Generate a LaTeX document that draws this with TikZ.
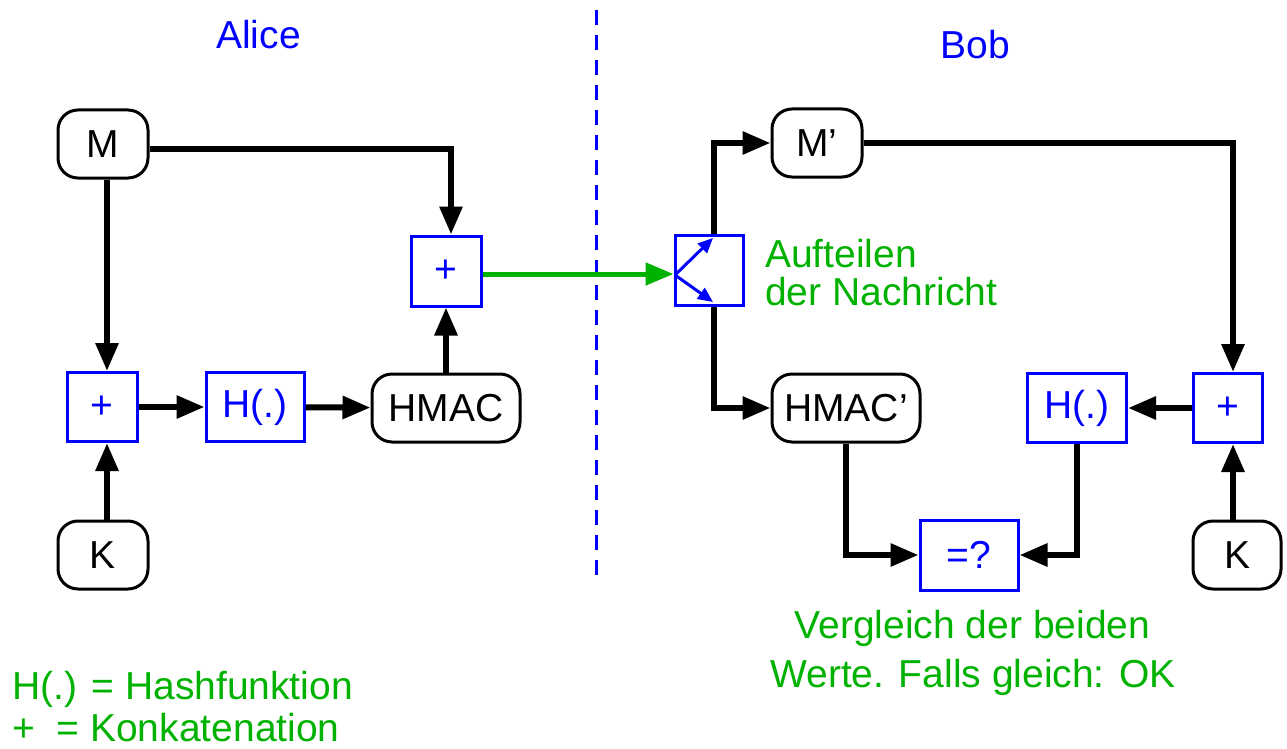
\documentclass[tikz,border=0pt]{standalone}
\usepackage{fontspec}
\setmainfont{Liberation Sans}
\usetikzlibrary{arrows.meta,calc}
\definecolor{dgreen}{RGB}{0,178,0}
\begin{document}
\begin{tikzpicture}[x=1pt,y=-1pt,
  every node/.style={font=\fontsize{39}{46}\selectfont, inner sep=0pt},
  rbox/.style={draw, line width=3pt, rounded corners=20pt, minimum width=#1, minimum height=68pt},
  bbox/.style={draw=blue, line width=3pt, text=blue, minimum width=#1, minimum height=69pt},
  conn/.style={line width=6pt, -{Triangle[length=28pt,width=22pt]}},
  gtext/.style={text=dgreen, anchor=base west},
  gctext/.style={text=dgreen, anchor=base},
  title/.style={text=blue, anchor=base}]
\useasboundingbox (0,0) rectangle (1287,749);

% helper coordinates
\coordinate (xl) at (107,0);
\coordinate (xp) at (451,0);
\coordinate (ym) at (0,149);
\coordinate (xr) at (1233,0);
\coordinate (yg) at (0,274);
\coordinate (dtop) at (596,10);
\coordinate (dbot) at (596,580);

% divider
\draw[blue, line width=3pt, dash pattern=on 15pt off 10pt] (dtop) -- (dbot);

% titles
\node[title] (alice) at (258.5,49) {Alice};
\node[title] (bob) at (975,59) {Bob};

% Alice side
\node[rbox=90pt] (M) at (103,144) {M};
\node[bbox=70pt, minimum height=70pt] (P1) at (446,271) {+};
\node[bbox=70pt] (P2) at (102,407) {+};
\node[bbox=98pt] (H1) at (255,407) {H(.)};
\node[rbox=148pt] (HMAC) at (446,408) {HMAC};
\node[rbox=90pt] (K1) at (103,555) {K};

\draw[conn] (M.east |- ym) -| (P1.north -| xp);
\draw[conn] (M.south -| xl) -- (P2.north -| xl);
\draw[conn] (K1.north -| xl) -- (P2.south -| xl);
\draw[conn] (P2) -- (H1);
\draw[conn] (H1) -- (HMAC);
\draw[conn] (HMAC) -- (P1);

% splitter
\node[bbox=68pt, minimum height=70pt] (S) at (709,270) {};
\coordinate (st) at (713,238);
\coordinate (sb) at (713,302);
\coordinate (sl) at (675,275);
\draw[blue, line width=3pt, -{Triangle[length=15pt,width=13pt]}] (sl) -- (st);
\draw[blue, line width=3pt, -{Triangle[length=15pt,width=13pt]}] (sl) -- (sb);

\draw[dgreen, line width=5pt, -{Triangle[length=28pt,width=22pt]}] (P1.east |- yg) -- (S.west |- yg);

% Bob side
\node[rbox=90pt] (Mp) at (817,143) {M’};
\node[rbox=148pt] (Hp) at (846,408) {HMAC’};
\node[bbox=99pt] (H2) at (1077,408) {H(.)};
\node[bbox=69pt] (P3) at (1228,408) {+};
\node[rbox=88pt] (K2) at (1237,555) {K};
\node[bbox=98pt, minimum height=70pt] (EQ) at (969,555) {=?};

\draw[conn] ([xshift=5pt]S.north) |- (Mp.west);
\draw[conn] ([xshift=5pt]S.south) |- (Hp.west);
\draw[conn] (Mp.east) -| (P3.north -| xr);
\draw[conn] (K2.north -| xr) -- (P3.south -| xr);
\draw[conn] (P3) -- (H2);
\draw[conn] (Hp.south) |- (EQ.west);
\draw[conn] (H2.south) |- (EQ.east);

% green labels
\node[gtext] (auf1) at (765,267) {Aufteilen};
\node[gtext] (auf2) at (765,305) {der Nachricht};
\node[gctext] (ver1) at (972.5,638) {Vergleich der beiden};
\node[gctext] (ver2) at (973,687) {Werte. Falls gleich: OK};
\node[gtext] (leg1) at (12,699) {H(.) = Hashfunktion};
\node[gtext] (leg2) at (12,741) {+\ \ = Konkatenation};
\end{tikzpicture}
\end{document}
